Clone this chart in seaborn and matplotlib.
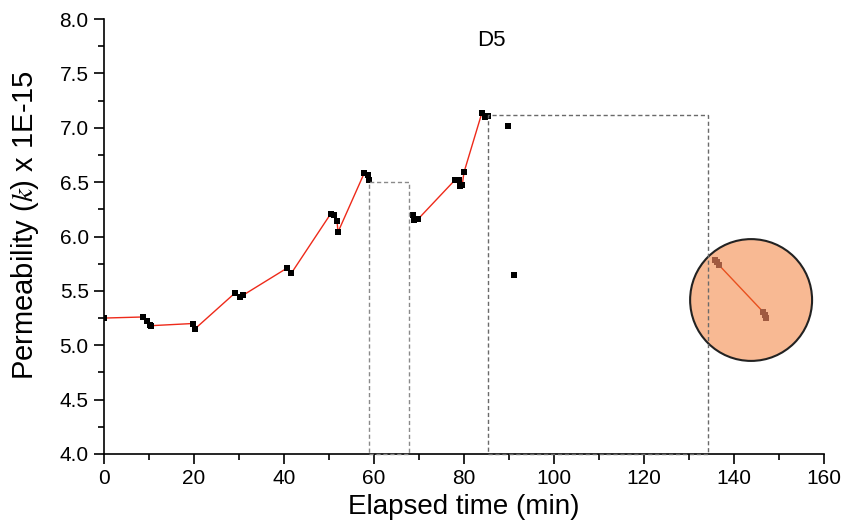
import matplotlib
matplotlib.use("Agg")
import matplotlib.pyplot as plt
import seaborn as sns
import pandas as pd
from matplotlib.patches import Rectangle, Ellipse
from matplotlib.ticker import MultipleLocator

# ---- data ----
seg1_time = [0, 8.7, 9.5, 10.2, 10.5, 19.8, 20.2, 29.1, 30.2, 30.9, 40.7, 41.6,
             50.4, 51.2, 51.8, 52.0, 57.8, 58.7, 58.9]
seg1_perm = [5.25, 5.26, 5.22, 5.19, 5.18, 5.20, 5.15, 5.48, 5.44, 5.46, 5.71, 5.66,
             6.21, 6.20, 6.14, 6.04, 6.58, 6.57, 6.52]
seg2_time = [68.7, 68.9, 69.8, 78.0, 78.9, 79.1, 79.6, 80.0, 84.0, 84.7, 85.3]
seg2_perm = [6.20, 6.15, 6.16, 6.52, 6.52, 6.46, 6.47, 6.59, 7.14, 7.10, 7.11]
outlier_time = [89.8, 91.1]
outlier_perm = [7.02, 5.65]
inset_time = [135.8, 136.3, 136.6, 146.4, 146.8, 147.1]
inset_perm = [5.78, 5.77, 5.74, 5.31, 5.28, 5.25]
box1_x = [59.0, 67.7]
box1_top = 6.50
box2_x = [85.3, 134.3]
box2_top = 7.12
circle_center = (143.8, 5.416)
circle_size = (27.1, 1.12)
title_text = "D5"

df1 = pd.DataFrame({"t": seg1_time, "k": seg1_perm})
df2 = pd.DataFrame({"t": seg2_time, "k": seg2_perm})
dfo = pd.DataFrame({"t": outlier_time, "k": outlier_perm})
dfi = pd.DataFrame({"t": inset_time, "k": inset_perm})

sns.set_style("ticks")
plt.rcParams["font.family"] = ["Liberation Sans", "DejaVu Sans"]
plt.rcParams["mathtext.fontset"] = "stix"
for key in ("text.color", "axes.labelcolor", "xtick.color", "ytick.color"):
    plt.rcParams[key] = "black"

fig = plt.figure(figsize=(8.48, 5.24), dpi=100)
ax = fig.add_axes([0.1226, 0.1336, 0.8491, 0.8301])

for d in (df1, df2):
    sns.lineplot(data=d, x="t", y="k", sort=False, color="#ee2a1a", linewidth=1.0,
                 ax=ax, zorder=3)
    sns.scatterplot(data=d, x="t", y="k", marker="s", s=16, color="black",
                    edgecolor="black", linewidth=0, ax=ax, zorder=4)
sns.scatterplot(data=dfo, x="t", y="k", marker="s", s=14, color="black",
                edgecolor="black", linewidth=0, ax=ax, zorder=4)

# circle highlight
circ = Ellipse(circle_center, circle_size[0], circle_size[1], facecolor="#f8b993",
               edgecolor="#222222", linewidth=1.5, zorder=2)
ax.add_patch(circ)
sns.lineplot(data=dfi, x="t", y="k", sort=False, color="#e8501e", linewidth=1.0,
             ax=ax, zorder=3)
sns.scatterplot(data=dfi, x="t", y="k", marker="s", s=16, color="#a05a40",
                edgecolor="#a05a40", linewidth=0, ax=ax, zorder=4)

# dashed boxes
ax.add_patch(Rectangle((box1_x[0], 4.0), box1_x[1] - box1_x[0], box1_top - 4.0,
                       fill=False, edgecolor="#8a8a8a", linestyle=(0, (3, 2)),
                       linewidth=1.0, zorder=5, clip_on=False))
ax.add_patch(Rectangle((box2_x[0], 4.0), box2_x[1] - box2_x[0], box2_top - 4.0,
                       fill=False, edgecolor="#6a6a6a", linestyle=(0, (3, 2)),
                       linewidth=1.0, zorder=5, clip_on=False))

ax.text(86, 7.8, title_text, fontsize=16, ha="center", va="center")

ax.set_xlim(0, 160)
ax.set_ylim(4.0, 8.0)
ax.xaxis.set_major_locator(MultipleLocator(20))
ax.xaxis.set_minor_locator(MultipleLocator(10))
ax.yaxis.set_major_locator(MultipleLocator(0.5))
ax.yaxis.set_minor_locator(MultipleLocator(0.25))
ax.yaxis.set_major_formatter(matplotlib.ticker.FormatStrFormatter("%.1f"))
ax.tick_params(axis="both", which="major", direction="out", length=7, width=1.2,
               labelsize=15, colors="black", pad=4)
ax.tick_params(axis="both", which="minor", direction="out", length=4, width=1.2)
for s in ("top", "right"):
    ax.spines[s].set_visible(False)
for s in ("left", "bottom"):
    ax.spines[s].set_linewidth(1.2)
    ax.spines[s].set_color("black")

ax.set_xlabel("Elapsed time (min)", fontsize=20, labelpad=4)
ax.set_ylabel("Permeability ($k$) x 1E-15", fontsize=21)
ax.yaxis.set_label_coords(-0.088, 0.527)

fig.savefig("out.png", dpi=100)
